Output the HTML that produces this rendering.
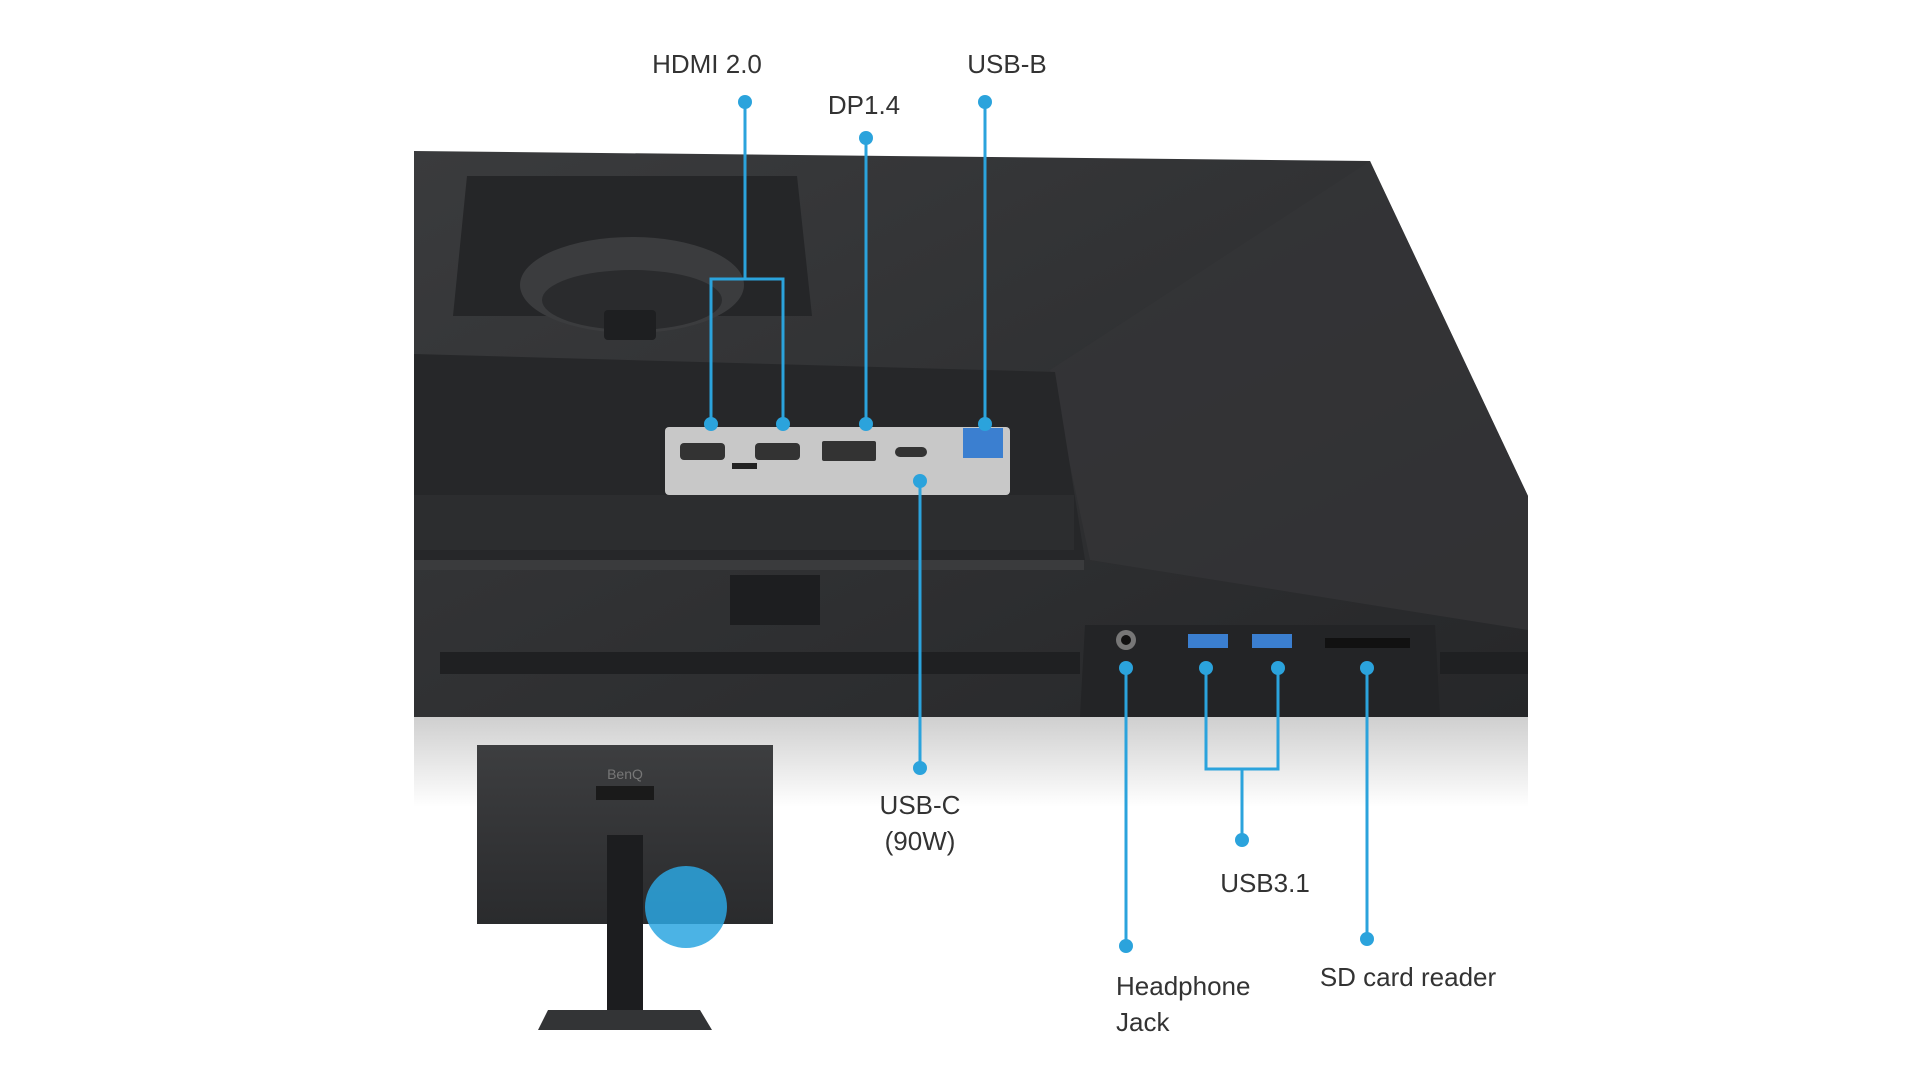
<!DOCTYPE html>
<html><head><meta charset="utf-8"><style>
html,body{margin:0;padding:0;background:#fff;width:1920px;height:1080px;overflow:hidden}
svg{display:block}
text{font-family:"Liberation Sans",sans-serif;font-size:26px;fill:#333}
</style></head><body>
<svg width="1920" height="1080" viewBox="0 0 1920 1080">
<defs>
<linearGradient id="body" x1="0" y1="0" x2="1" y2="1">
<stop offset="0" stop-color="#3a3b3d"/><stop offset="0.6" stop-color="#2e2f31"/><stop offset="1" stop-color="#262729"/></linearGradient>
<linearGradient id="shadow" x1="0" y1="0" x2="0" y2="1">
<stop offset="0" stop-color="#cfcfcf"/><stop offset="1" stop-color="#ffffff"/></linearGradient>
<linearGradient id="small" x1="0" y1="0" x2="0" y2="1">
<stop offset="0" stop-color="#3d3e40"/><stop offset="1" stop-color="#2a2b2d"/></linearGradient>
</defs>
<!-- shadow under monitor -->
<rect x="414" y="717" width="1114" height="90" fill="url(#shadow)"/>
<!-- monitor body -->
<path d="M414 151 L1370 161 L1528 496 L1528 717 L414 717 Z" fill="url(#body)"/>
<!-- right textured side -->
<path d="M1050 370 L1370 161 L1528 496 L1528 630 L1090 560 Z" fill="#343537" opacity="0.8"/>
<!-- VESA mount -->
<path d="M467 176 L797 176 L812 316 L453 316 Z" fill="#252628"/>
<ellipse cx="632" cy="285" rx="112" ry="48" fill="#3b3c3e"/>
<ellipse cx="632" cy="300" rx="90" ry="30" fill="#2a2b2d"/>
<rect x="604" y="310" width="52" height="30" rx="4" fill="#1e1f21"/>
<!-- recess -->
<path d="M414 354 L1055 372 L1085 560 L414 560 Z" fill="#262729"/>
<rect x="414" y="495" width="660" height="55" fill="#2c2d2f"/>
<rect x="414" y="560" width="670" height="10" fill="#3a3b3d"/>
<rect x="730" y="575" width="90" height="50" fill="#1d1e20"/>
<!-- vents -->
<rect x="440" y="652" width="640" height="22" fill="#1f2022"/>
<rect x="1440" y="652" width="88" height="22" fill="#1f2022"/>
<!-- front port block -->
<path d="M1085 625 L1435 625 L1440 717 L1080 717 Z" fill="#232426"/>
<circle cx="1126" cy="640" r="10" fill="#777"/><circle cx="1126" cy="640" r="5" fill="#111"/>
<rect x="1188" y="634" width="40" height="14" fill="#3b7fd0"/>
<rect x="1252" y="634" width="40" height="14" fill="#3b7fd0"/>
<rect x="1325" y="638" width="85" height="10" fill="#111"/>
<!-- port panel -->
<rect x="665" y="427" width="345" height="68" rx="4" fill="#c8c8c8"/>
<rect x="680" y="443" width="45" height="17" rx="4" fill="#333"/>
<rect x="755" y="443" width="45" height="17" rx="4" fill="#333"/>
<rect x="822" y="441" width="54" height="20" rx="2" fill="#333"/>
<rect x="895" y="447" width="32" height="10" rx="5" fill="#333"/>
<rect x="963" y="428" width="40" height="30" fill="#3b7fd0"/>
<rect x="732" y="463" width="25" height="6" fill="#222"/>
<!-- small monitor -->
<rect x="477" y="745" width="296" height="179" fill="url(#small)"/>
<text x="625" y="779" text-anchor="middle" style="font-size:14px;fill:#777">BenQ</text>
<rect x="596" y="786" width="58" height="14" fill="#1a1a1a"/>
<rect x="607" y="835" width="36" height="192" fill="#1c1d1f"/>
<path d="M548 1010 L700 1010 L712 1030 L538 1030 Z" fill="#333436"/>
<circle cx="686" cy="907" r="41" fill="#2ba6e0" opacity="0.85"/>
<!-- connectors -->
<g stroke="#2ba3dc" stroke-width="3" fill="none">
<path d="M745 102 V279 M711 424 V279 H783 V424"/>
<path d="M866 138 V424"/>
<path d="M985 102 V424"/>
<path d="M920 481 V768"/>
<path d="M1126 668 V946"/>
<path d="M1206 668 V769 H1278 V668 M1242 769 V840"/>
<path d="M1367 668 V939"/>
</g>
<g fill="#2ba3dc">
<circle cx="745" cy="102" r="7"/><circle cx="711" cy="424" r="7"/><circle cx="783" cy="424" r="7"/>
<circle cx="866" cy="138" r="7"/><circle cx="985" cy="102" r="7"/><circle cx="985" cy="424" r="7"/>
<circle cx="866" cy="424" r="7"/>
<circle cx="920" cy="481" r="7"/><circle cx="920" cy="768" r="7"/>
<circle cx="1126" cy="668" r="7"/><circle cx="1126" cy="946" r="7"/>
<circle cx="1206" cy="668" r="7"/><circle cx="1278" cy="668" r="7"/><circle cx="1242" cy="840" r="7"/>
<circle cx="1367" cy="668" r="7"/><circle cx="1367" cy="939" r="7"/>
</g>
<!-- labels -->
<text x="707" y="73" text-anchor="middle">HDMI 2.0</text>
<text x="864" y="114" text-anchor="middle">DP1.4</text>
<text x="1007" y="73" text-anchor="middle">USB-B</text>
<text x="920" y="814" text-anchor="middle">USB-C</text>
<text x="920" y="850" text-anchor="middle">(90W)</text>
<text x="1265" y="892" text-anchor="middle">USB3.1</text>
<text x="1116" y="995">Headphone</text>
<text x="1116" y="1031">Jack</text>
<text x="1408" y="986" text-anchor="middle">SD card reader</text>
</svg>
</body></html>
